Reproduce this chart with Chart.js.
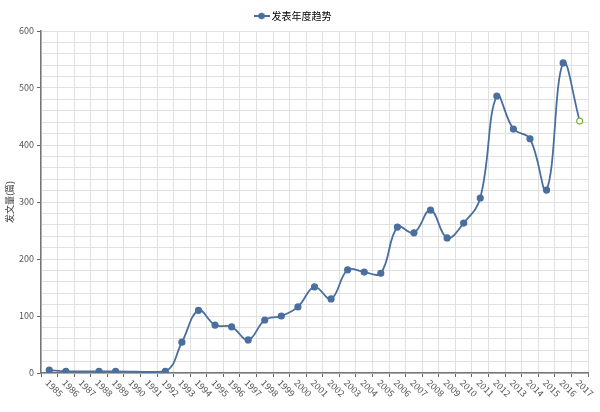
<!DOCTYPE html>
<html>
<head>
<meta charset="utf-8">
<script src="https://cdn.jsdelivr.net/npm/chart.js@4"></script>
<style>
  html, body { margin: 0; padding: 0; background: #fff; }
  #wrap { width: 600px; height: 412px; }
</style>
</head>
<body>
<div id="wrap"><canvas id="c"></canvas></div>
<script>
// 年份
const years = ['1985', '1986', '1987', '1988', '1989', '1990', '1991', '1992', '1993', '1994', '1995',
    '1996', '1997', '1998', '1999', '2000', '2001', '2002', '2003', '2004', '2005', '2006', '2007',
    '2008', '2009', '2010', '2011', '2012', '2013', '2014', '2015', '2016', '2017'];
// 发文量 (null = 无数据)
const counts = [5, 3, null, 3, 3, null, null, 3, 54, 110, 84, 81, 58, 93, 100, 116, 151, 130, 181, 177,
    175, 256, 246, 286, 237, 263, 307, 486, 428, 411, 321, 544, 442];
const seriesName = '发表年度趋势';
const yTitle = '发文量(篇)';

const blue = '#4a6f9e';
const green = '#7cb342';
const font = "'Noto Sans CJK SC', 'Noto Sans', sans-serif";

// legend icon: short line through a dot
const icon = (function() {
    const cv = document.createElement('canvas');
    cv.width = 16; cv.height = 8;
    const ctx = cv.getContext('2d');
    ctx.strokeStyle = blue;
    ctx.lineWidth = 2;
    ctx.beginPath(); ctx.moveTo(0, 4); ctx.lineTo(16, 4); ctx.stroke();
    ctx.fillStyle = blue;
    ctx.beginPath(); ctx.arc(8, 4, 3.2, 0, Math.PI * 2); ctx.fill();
    return cv;
})();

const last = counts.length - 1;
const pointFill = counts.map((v, i) => i === last ? '#ffffff' : blue);
const pointLine = counts.map((v, i) => i === last ? green : blue);

// x labels rotated down-right, drawn by hand
const xLabels = {
    id: 'xLabels',
    afterDraw(chart) {
        const ctx = chart.ctx;
        const x = chart.scales.x;
        const y0 = x.top + 8;
        ctx.save();
        ctx.font = '9px ' + font;
        ctx.fillStyle = '#555';
        ctx.textAlign = 'left';
        ctx.textBaseline = 'middle';
        years.forEach((yr, i) => {
            const px = x.getPixelForValue(i);
            ctx.save();
            ctx.translate(px - 2, y0);
            ctx.rotate(Math.PI / 4);
            ctx.fillText(yr, 0, 0);
            ctx.restore();
        });
        ctx.restore();
    }
};

new Chart(document.getElementById('c'), {
    type: 'line',
    data: {
        labels: years,
        datasets: [{
            label: seriesName,
            data: counts,
            borderColor: blue,
            backgroundColor: blue,
            borderWidth: 1.8,
            tension: 0.4,
            spanGaps: true,
            pointRadius: 3,
            pointBorderWidth: 1.2,
            pointBackgroundColor: pointFill,
            pointBorderColor: pointLine,
            pointStyle: 'circle'
        }]
    },
    options: {
        responsive: true,
        maintainAspectRatio: false,
        animation: false,
        layout: { padding: { left: 0, right: 12, top: 2, bottom: 0 } },
        plugins: {
            legend: {
                position: 'top',
                labels: {
                    usePointStyle: true,
                    pointStyle: icon,
                    font: { family: font, size: 10 },
                    color: '#444',
                    padding: 9,
                    generateLabels: (chart) => [{
                        text: seriesName,
                        pointStyle: icon,
                        fillStyle: blue,
                        strokeStyle: blue,
                        lineWidth: 0,
                        datasetIndex: 0
                    }]
                }
            },
            tooltip: { enabled: false }
        },
        scales: {
            x: {
                offset: true,
                grid: { color: '#e0e0e0', offset: true, drawTicks: true, tickLength: 4, tickColor: '#666' },
                border: { color: '#777', width: 1.5 },
                ticks: { display: false },
                afterFit: (s) => { s.height = 39; }
            },
            y: {
                min: 0,
                max: 600,
                grid: {
                    color: '#e0e0e0',
                    tickLength: 4,
                    tickColor: (c) => (c.tick && c.tick.value % 100 === 0) ? '#666' : 'rgba(0,0,0,0)'
                },
                border: { color: '#777', width: 1.5 },
                ticks: {
                    stepSize: 20,
                    autoSkip: false,
                    color: '#555',
                    font: { family: font, size: 9 },
                    padding: 3,
                    callback: (v) => v % 100 === 0 ? v : ''
                },
                title: {
                    display: true,
                    text: yTitle,
                    color: '#333',
                    font: { family: font, size: 9 },
                    padding: { top: 4, bottom: 0 }
                },
                afterFit: (s) => { s.width = 41; }
            }
        }
    },
    plugins: [xLabels]
});
</script>
</body>
</html>
